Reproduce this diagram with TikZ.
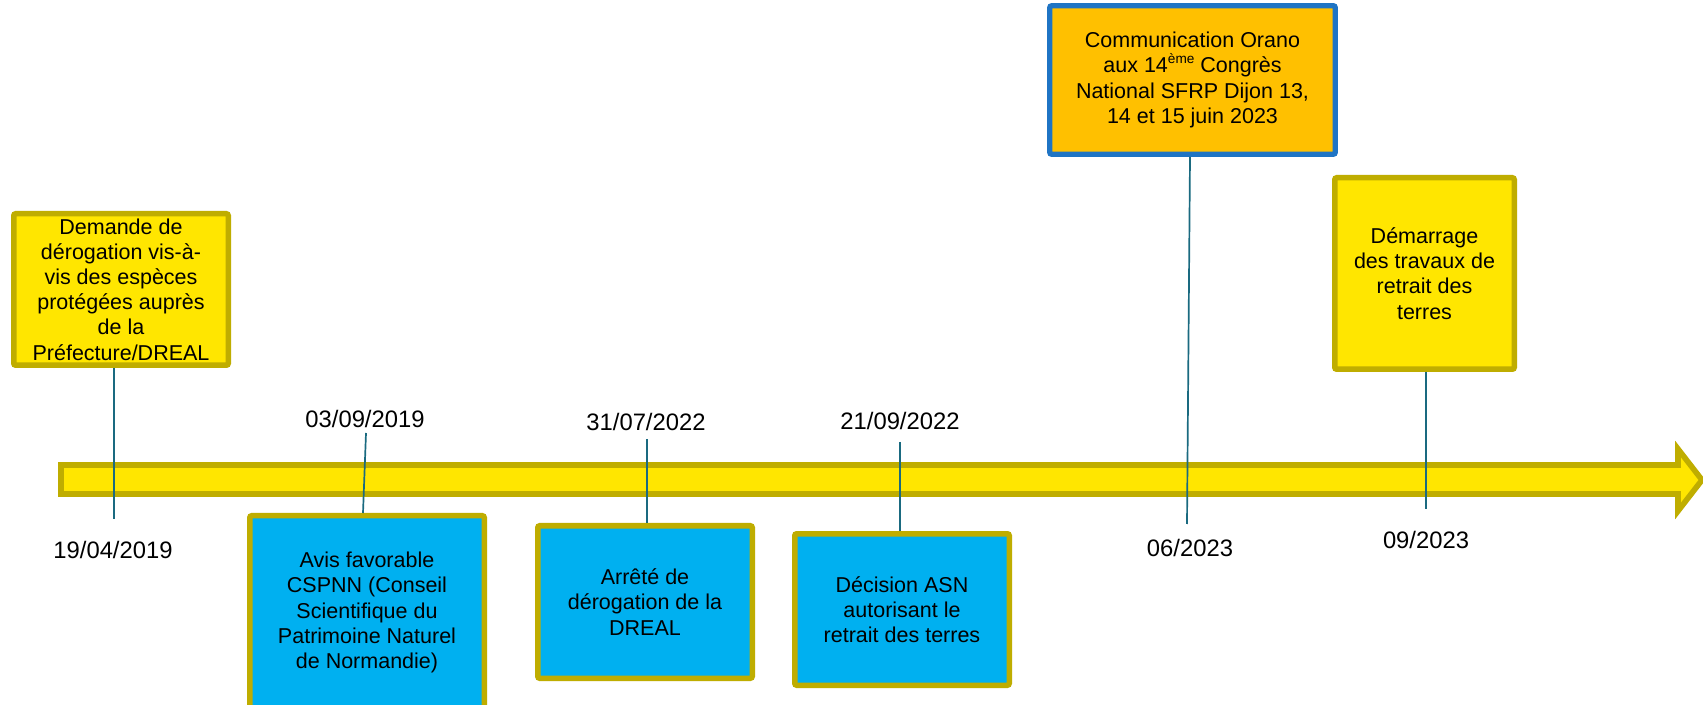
\documentclass[tikz,border=0pt]{standalone}
\usepackage{fontspec}
\setmainfont{Liberation Sans}
\definecolor{tlYellow}{HTML}{FFE600}
\definecolor{tlOlive}{HTML}{BFAD00}
\definecolor{tlBlue}{HTML}{00B0F0}
\definecolor{tlOrange}{HTML}{FFC000}
\definecolor{tlFrame}{HTML}{1F74C4}
\definecolor{tlStem}{HTML}{1A6A80}
% small raised ordinal suffix
\newcommand{\ordsup}[1]{\raisebox{0.42em}{\fontsize{6.8pt}{7pt}\selectfont #1}}

\begin{document}
\begin{tikzpicture}[x=0.5pt,y=-0.5pt,
  event/.style={draw=tlOlive, line width=2.75pt, rounded corners=1pt,
    align=center, inner sep=0pt, text=black,
    font=\fontsize{10.75pt}{12.6pt}\selectfont},
  upbox/.style={event, fill=tlYellow},
  downbox/.style={event, fill=tlBlue},
  keybox/.style={event, fill=tlOrange, draw=tlFrame, line width=2.65pt},
  datelabel/.style={inner sep=0pt, text=black, font=\fontsize{11.9pt}{14pt}\selectfont},
  stem/.style={draw=tlStem, line width=0.85pt},
  timeline/.style={fill=tlYellow, draw=tlOlive, line width=2.8pt, line join=miter}
]
\useasboundingbox (0,0) rectangle (1703,705);
\clip (0,0) rectangle (1703,705);
\fill[white] (0,0) rectangle (1703,705);

% time axis drawn as a thick block arrow
\draw[timeline] (61,465) -- (1678,465) -- (1678,449) -- (1702,480)
  -- (1678,511) -- (1678,494) -- (61,494) -- cycle;

% free ends of the stems
\coordinate (e1) at (114,519);
\coordinate (e2) at (366,433);
\coordinate (e3) at (647,439);
\coordinate (e4) at (900,442);
\coordinate (e5) at (1187,524);
\coordinate (e6) at (1426,509);

% event boxes
\node[upbox, minimum width=107.25pt, minimum height=75.75pt] (demande) at (121,289.5)
  {Demande de\\dérogation vis-à-\\vis des espèces\\protégées auprès\\de la\\Préfecture/DREAL};
\node[downbox, minimum width=117.25pt, minimum height=96.75pt] (cspnn) at (367,612.5)
  {Avis favorable\\CSPNN (Conseil\\Scientifique du\\Patrimoine Naturel\\de Normandie)};
\node[downbox, minimum width=107.25pt, minimum height=76.25pt] (arrete) at (645,602)
  {Arrêté de\\dérogation de la\\DREAL};
\node[downbox, minimum width=107.25pt, minimum height=75.75pt] (asn) at (902,609.5)
  {Décision ASN\\autorisant le\\retrait des terres};
\node[keybox, minimum width=142.75pt, minimum height=74.25pt] (congres) at (1192.5,80)
  {Communication Orano\\aux 14\ordsup{ème} Congrès\\National SFRP Dijon 13,\\14 et 15 juin 2023};
\node[upbox, minimum width=89.75pt, minimum height=95.75pt] (travaux) at (1424.5,273.5)
  {Démarrage\\des travaux de\\retrait des\\terres};

% dates
\node[datelabel] (d1) at (113,550) {19/04/2019};
\node[datelabel] (d2) at (365,419) {03/09/2019};
\node[datelabel] (d3) at (646,422) {31/07/2022};
\node[datelabel] (d4) at (900,421) {21/09/2022};
\node[datelabel] (d5) at (1190,548) {06/2023};
\node[datelabel] (d6) at (1426,540) {09/2023};

% stems linking boxes to the axis
\draw[stem] (e1 |- demande.south) -- (e1);
\draw[stem] (e2) -- ([xshift=-2pt]cspnn.north);
\draw[stem] (e3) -- (e3 |- arrete.north);
\draw[stem] (e4) -- (e4 |- asn.north);
\draw[stem] ([xshift=-1.25pt]congres.south) -- (e5);
\draw[stem] (e6 |- travaux.south) -- (e6);
\end{tikzpicture}
\end{document}
